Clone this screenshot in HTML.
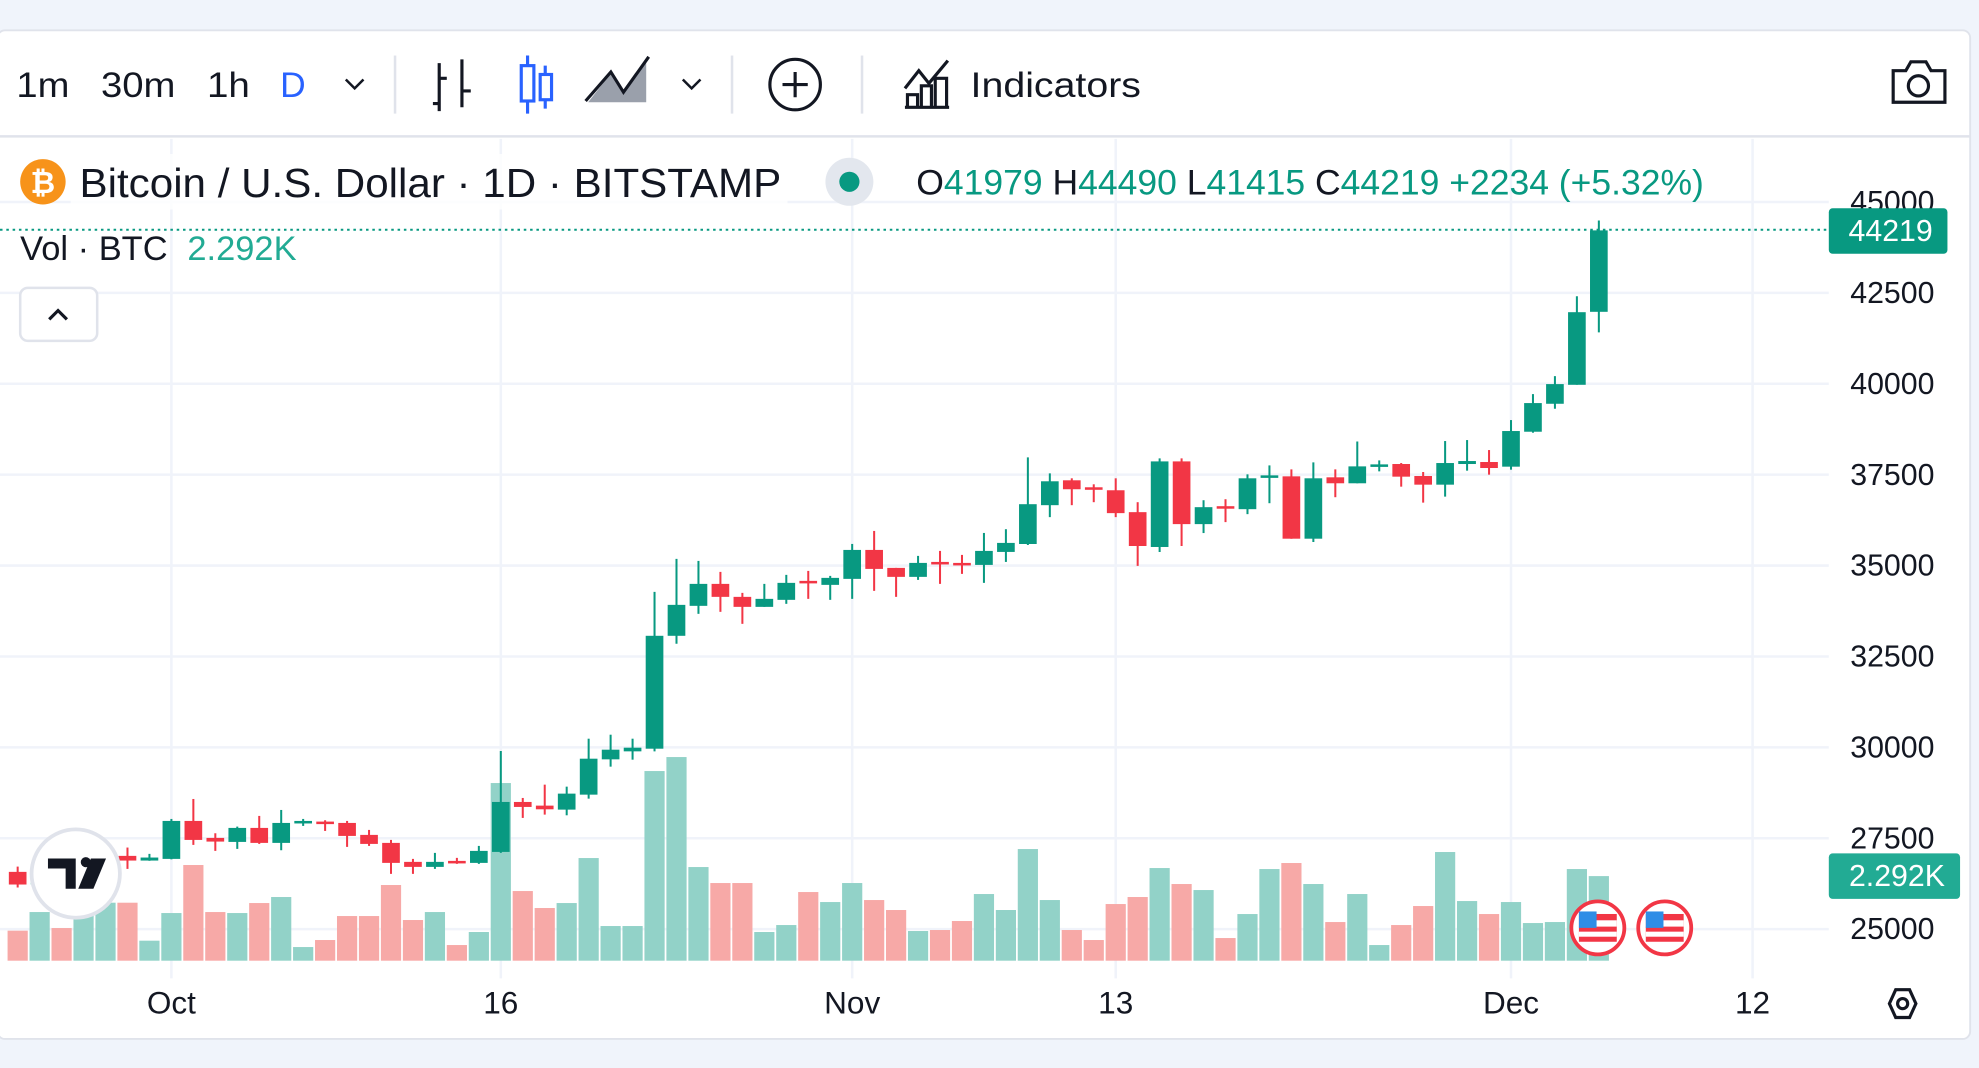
<!DOCTYPE html>
<html><head><meta charset="utf-8"><style>
html,body{margin:0;padding:0;background:#f0f4fb;}
svg{display:block;font-family:"Liberation Sans","DejaVu Sans",sans-serif;}
</style></head><body>
<svg id="chart" width="1979" height="1068" viewBox="0 0 1568 846" preserveAspectRatio="none" xmlns="http://www.w3.org/2000/svg">
<rect x="0" y="0" width="1568" height="846" fill="#f0f4fb"/>
<rect x="-2" y="24" width="1563" height="799" rx="6" fill="#fff" stroke="#e0e3eb" stroke-width="1.5"/>
<g font-size="28" fill="#131722">
<text x="13" y="77" textLength="42" lengthAdjust="spacingAndGlyphs">1m</text>
<text x="80" y="77" textLength="59" lengthAdjust="spacingAndGlyphs">30m</text>
<text x="164" y="77" textLength="34" lengthAdjust="spacingAndGlyphs">1h</text>
<text x="222" y="77" fill="#2962ff">D</text>
<path d="M274 63 L281 70 L288 63" stroke="#131722" stroke-width="2" fill="none"/>
<line x1="313" y1="44" x2="313" y2="90" stroke="#e0e3eb" stroke-width="2"/>
<g stroke="#131722" stroke-width="2.5" fill="none">
<path d="M348 50 V88 M343 82 H348 M348 62 H354 M366 47 V85 M366 72 H373"/></g>
<g stroke="#2962ff" stroke-width="2.5" fill="none">
<path d="M418 44 V90 M432 52 V86"/><rect x="413" y="52" width="10" height="28" fill="#fff"/><rect x="428" y="59" width="9" height="20" fill="#fff"/></g>
<g>
<path d="M466 81 L484 58 L494 74 L512 48 L512 81 Z" fill="#9aa0ab"/>
<path d="M464 80 L484 57 L494 73 L514 45" stroke="#131722" stroke-width="2.5" fill="none"/></g>
<path d="M541 63 L548 70 L555 63" stroke="#131722" stroke-width="2" fill="none"/>
<line x1="580" y1="44" x2="580" y2="90" stroke="#e0e3eb" stroke-width="2"/>
<g><circle cx="630" cy="67" r="20" fill="none" stroke="#131722" stroke-width="2.5"/><path d="M630 57 V77 M620 67 H640" stroke="#131722" stroke-width="2.5"/></g>
<line x1="683" y1="44" x2="683" y2="90" stroke="#e0e3eb" stroke-width="2"/>
<g stroke="#131722" stroke-width="2.5" fill="none">
<path d="M717 70 L728 56 L736 66 L751 48"/><path d="M717 85 H752 M719 85 V75 H727 V85 M730 85 V68 H738 V85 M741 85 V62 H750 V85"/></g>
<text x="769" y="77" textLength="135" lengthAdjust="spacingAndGlyphs">Indicators</text>
<g stroke="#131722" stroke-width="2.5" fill="none">
<path d="M1500 56 H1510 L1514 49 H1526 L1530 56 H1541 V81 H1500 Z"/><circle cx="1520" cy="68" r="8"/></g>
</g>
<line x1="0" y1="108" x2="1561" y2="108" stroke="#e0e3eb" stroke-width="2"/>
<g id="grid"></g>
<g id="vols"></g>
<g id="candles"></g>
<g id="yaxis" font-size="24" fill="#131722"></g>
<g id="xaxis" font-size="25" fill="#131722"></g>
<g>
<circle cx="34" cy="144" r="18" fill="#f7931a"/>
<text x="34" y="153" font-size="24" font-weight="bold" fill="#fff" text-anchor="middle">₿</text>
<rect x="56" y="122" width="568" height="44" fill="#fff" opacity="0.8"/>
<text x="63" y="156" font-size="32" fill="#131722" textLength="556" lengthAdjust="spacingAndGlyphs">Bitcoin / U.S. Dollar · 1D · BITSTAMP</text>
<circle cx="673" cy="144" r="19" fill="#e3e7ee"/>
<circle cx="673" cy="144" r="8" fill="#089981"/>
<text x="726" y="154" font-size="28" fill="#089981" textLength="624" lengthAdjust="spacingAndGlyphs"><tspan fill="#131722">O</tspan>41979 <tspan fill="#131722">H</tspan>44490 <tspan fill="#131722">L</tspan>41415 <tspan fill="#131722">C</tspan>44219 +2234 (+5.32%)</text>
<text x="16" y="206" font-size="27" fill="#131722" textLength="219" lengthAdjust="spacingAndGlyphs">Vol · BTC <tspan fill="#22ab94" dx="8">2.292K</tspan></text>
<g><rect x="16" y="228" width="61" height="42" rx="6" fill="#fff" stroke="#e0e3eb" stroke-width="2"/><path d="M39 253 L46 246 L53 253" stroke="#131722" stroke-width="2.5" fill="none"/></g>
</g>
<line x1="0" y1="182" x2="1449" y2="182" stroke="#089981" stroke-width="1.5" stroke-dasharray="2 3"/>
<rect x="1449" y="165" width="94" height="36" rx="3" fill="#089981"/>
<text x="1498" y="191" font-size="24" fill="#fff" text-anchor="middle">44219</text>
<rect x="1449" y="676" width="104" height="36" rx="3" fill="#22ab94"/>
<text x="1503" y="702" font-size="24" fill="#fff" text-anchor="middle">2.292K</text>
<g>
<circle cx="60" cy="692" r="35" fill="#fff" stroke="#e0e3eb" stroke-width="3"/>
<path d="M38 680 H60 V704 H52 V688 H38 Z" fill="#131722"/><circle cx="68" cy="683" r="4" fill="#131722"/><path d="M72 680 H84 L74 704 H62 Z" fill="#131722"/>
</g>
<g><circle cx="1266" cy="735" r="21" fill="#fff" stroke="#f23645" stroke-width="3"/><rect x="1251" y="724" width="30" height="22" fill="#f23645"/><rect x="1251" y="729" width="30" height="5" fill="#fff"/><rect x="1251" y="738" width="30" height="4" fill="#fff"/><rect x="1251" y="722" width="14" height="13" fill="#2e8de6"/></g>
<g><circle cx="1319" cy="735" r="21" fill="#fff" stroke="#f23645" stroke-width="3"/><rect x="1304" y="724" width="30" height="22" fill="#f23645"/><rect x="1304" y="729" width="30" height="5" fill="#fff"/><rect x="1304" y="738" width="30" height="4" fill="#fff"/><rect x="1304" y="722" width="14" height="13" fill="#2e8de6"/></g>
<g><path d="M1497 795 L1502 784 H1513 L1518 795 L1513 806 H1502 Z" fill="none" stroke="#131722" stroke-width="2.5"/><circle cx="1507.5" cy="795" r="4" fill="none" stroke="#131722" stroke-width="2.5"/></g>
</svg>
<script>
const opens=[26575,26230,26480,26350,26700,27015,26886,26932,27976,27509,27399,27784,27372,27930,27958,27921,27592,27372,26850,26712,26877,26822,27124,28498,28397,28287,28699,29670,29890,29963,33068,33892,34496,34139,33864,34057,34579,34469,34634,35430,34936,34689,35100,35073,35018,35375,35593,36661,37345,37153,37071,36469,35511,37865,36140,36633,36551,37436,37454,35739,37427,37263,37728,37793,37463,37225,37793,37848,37720,38681,39450,39972,41979];
const highs=[26720,26550,26600,26750,27050,27244,27070,28031,28580,27637,27820,28114,28278,28031,27995,27976,27729,27454,26932,27097,26960,27289,29899,28608,28974,28919,30238,30348,30238,34277,35183,35128,34826,34249,34496,34744,34853,34716,35595,35952,34936,35266,35403,35293,35897,36000,37974,37536,37400,37235,37400,36743,37947,37947,36797,36825,37509,37755,37646,37838,37646,38412,37892,37820,37573,38425,38452,38177,39002,39716,40210,42408,44490];
const lows=[26145,26150,26250,26300,26650,26657,26880,26920,27317,27152,27207,27344,27170,27839,27701,27262,27289,26520,26520,26657,26795,26795,27097,28059,28150,28131,28589,29469,29661,29890,32848,33672,33727,33397,33864,33947,34084,34057,34084,34304,34139,34606,34496,34771,34524,35100,35566,36332,36661,36743,36332,34991,35374,35538,35894,36195,36414,36715,35739,35648,36880,37263,37591,37170,36731,36896,37610,37500,37637,38654,39313,39972,41415];
const closes=[26227,26480,26350,26700,27000,26886,26969,27976,27454,27408,27784,27372,27921,27976,27912,27564,27344,26822,26712,26850,26822,27152,28498,28361,28296,28727,29688,29936,29991,33068,33919,34496,34139,33864,34084,34524,34524,34661,35430,34908,34689,35073,35055,35027,35403,35623,36688,37318,37099,37099,36442,35538,37865,36140,36606,36579,37400,37481,35739,37400,37263,37728,37783,37445,37225,37820,37875,37683,38700,39469,39991,41969,44219];
const volumes=[813,1318,885,1282,1571,1571,542,1291,2592,1318,1291,1562,1725,370,560,1210,1210,2050,1102,1318,424,777,4813,1887,1427,1562,2781,939,939,5138,5517,2537,2104,2104,777,966,1860,1589,2104,1643,1373,804,831,1075,1806,1373,3025,1643,831,560,1535,1725,2510,2077,1914,614,1264,2483,2646,2077,1047,1806,424,966,1481,2944,1616,1264,1589,1020,1047,2483,2292];
const priceTicks=[45000,42500,40000,37500,35000,32500,30000,27500,25000];
const timeLabels=["Oct","16","Nov","13","Dec","12"];
const timeLabelIndex=[7,22,38,50,68,79];

const NS="http://www.w3.org/2000/svg";
function xOf(i){return 14+17.4*i;}
function yOf(p){return 160+(45000-p)*72/2500;}
function vY(v){return 761-v/34.2;}
function mk(tag,attrs,parent){const e=document.createElementNS(NS,tag);for(const k in attrs)e.setAttribute(k,attrs[k]);parent.appendChild(e);return e;}
const grid=document.getElementById('grid'),vols=document.getElementById('vols'),cg=document.getElementById('candles'),ya=document.getElementById('yaxis'),xa=document.getElementById('xaxis');
priceTicks.forEach(p=>{
  const l=mk('line',{x1:0,x2:1449,y1:yOf(p),y2:yOf(p),stroke:'#f0f3fa','stroke-width':2},grid);
  
  
  const t=mk('text',{x:1466,y:yOf(p)+8},ya);t.textContent=p;
  
  
});
timeLabels.forEach((s,k)=>{
  const x=xOf(timeLabelIndex[k]);
  const l=mk('line',{x1:x,x2:x,y1:110,y2:775,stroke:'#f0f3fa','stroke-width':2},grid);
  
  
  const t=mk('text',{x:x,y:803,'text-anchor':'middle'},xa);t.textContent=s;
  
  
});
for(let i=0;i<opens.length;i++){
  const up=closes[i]>=opens[i];const x=xOf(i);
  const vb=mk('rect',{x:x-8,y:vY(volumes[i]),width:16,height:761-vY(volumes[i]),fill:up?'#92d2c8':'#f7a9a7'},vols);
  
  
  const col=up?'#089981':'#f23645';
  const g=mk('g',{},cg);
  
  
  mk('line',{x1:x,x2:x,y1:yOf(highs[i]),y2:yOf(lows[i]),stroke:col,'stroke-width':1.6},g);
  const top=yOf(Math.max(opens[i],closes[i])),bot=yOf(Math.min(opens[i],closes[i]));
  mk('rect',{x:x-7,y:top,width:14,height:Math.max(2,bot-top),fill:col},g);
}
</script>
</body></html>
